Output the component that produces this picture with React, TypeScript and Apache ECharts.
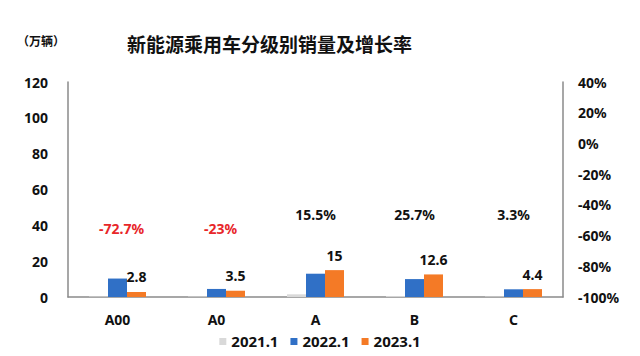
import React, { useEffect, useRef } from "react";
import * as echarts from "echarts";

const categories = ["A00", "A0", "A", "B", "C"];
const seriesNames = ["2021.1", "2022.1", "2023.1"];
const sales2021 = [0.3, 0.3, 1.5, 0.5, 0.3];
const sales2022 = [10.3, 4.5, 13.0, 10.0, 4.3];
const sales2023 = [2.8, 3.5, 15, 12.6, 4.4];
const growthRates = [-72.7, -23, 15.5, 25.7, 3.3];
const leftTicks = { min: 0, max: 120, interval: 20 };
const rightTicks = { min: -100, max: 40, interval: 20 };

const GROWTH_LABEL_LEVEL = 46;
const FONT = "'Noto Sans', 'Noto Sans CJK SC', sans-serif";
const COLORS = ["#D9D9D9", "#3070C6", "#F47A26"];

export default function App() {
  const ref = useRef<HTMLDivElement>(null);
  useEffect(() => {
    if (!ref.current) return;
    const chart = echarts.init(ref.current, undefined, { renderer: "svg" });
    const axisLabel = { color: "#111", fontSize: 14, fontWeight: "bold" as const, fontFamily: FONT };
    chart.setOption({
      animation: false,
      backgroundColor: "#ffffff",
      title: {
        text: "新能源乘用车分级别销量及增长率",
        left: 122,
        top: 30,
        textStyle: { fontSize: 19, fontWeight: "bold", color: "#111", fontFamily: FONT },
      },
      graphic: [
        {
          type: "text",
          left: 17,
          top: 35,
          style: { text: "（万辆）", fill: "#111", font: `bold 12px ${FONT}` },
        },
      ],
      legend: {
        data: seriesNames,
        bottom: 2,
        left: "center",
        itemWidth: 7,
        itemHeight: 7,
        itemGap: 12,
        icon: "rect",
        textStyle: { fontSize: 15, fontWeight: "bold", color: "#111", fontFamily: FONT },
      },
      grid: { left: 68, right: 77, top: 82, bottom: 59 },
      xAxis: {
        type: "category",
        data: categories,
        axisLine: { lineStyle: { color: "#8a8a8a", width: 1.5 } },
        axisTick: { show: false },
        axisLabel: { ...axisLabel, margin: 15 },
      },
      yAxis: [
        {
          type: "value",
          ...leftTicks,
          axisLine: { show: true, lineStyle: { color: "#8a8a8a", width: 1.5 } },
          axisTick: { show: false },
          splitLine: { show: false },
          axisLabel: { ...axisLabel, margin: 20 },
        },
        {
          type: "value",
          ...rightTicks,
          position: "right",
          axisLine: { show: true, lineStyle: { color: "#8a8a8a", width: 1.5 } },
          axisTick: { show: false },
          splitLine: { show: false },
          axisLabel: { ...axisLabel, margin: 15, formatter: "{value}%" },
        },
      ],
      series: [
        {
          name: seriesNames[0],
          type: "bar",
          data: sales2021,
          barWidth: 19,
          barGap: "0%",
          itemStyle: { color: COLORS[0] },
        },
        {
          name: seriesNames[1],
          type: "bar",
          data: sales2022,
          barWidth: 19,
          barGap: "0%",
          itemStyle: { color: COLORS[1] },
        },
        {
          name: seriesNames[2],
          type: "bar",
          data: sales2023,
          barWidth: 19,
          barGap: "0%",
          itemStyle: { color: COLORS[2] },
          label: {
            show: true,
            position: "top",
            distance: 8,
            fontSize: 14,
            fontWeight: "bold",
            color: "#111",
            fontFamily: FONT,
          },
        },
        {
          name: "增长率",
          type: "scatter",
          symbolSize: 0,
          silent: true,
          itemStyle: { opacity: 1 },
          data: growthRates.map((g, i) => ({
            value: [categories[i], GROWTH_LABEL_LEVEL],
            label: {
              color: g < 0 ? "#E8262A" : "#111",
              offset: [g < 0 ? 4 : 0, g < 0 ? 14 : 0],
            },
          })),
          label: {
            show: true,
            position: "inside",
            fontSize: 14,
            fontWeight: "bold",
            fontFamily: FONT,
            formatter: (p: any) => `${growthRates[p.dataIndex]}%`,
          },
        },
      ],
    });
    return () => chart.dispose();
  }, []);
  return (
    <div
      ref={ref}
      style={{ position: "fixed", left: 0, top: 0, width: 640, height: 356 }}
    />
  );
}
